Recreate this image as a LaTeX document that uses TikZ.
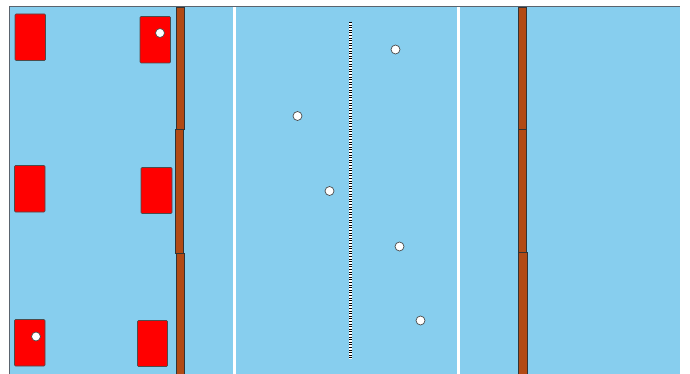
\documentclass[tikz,border=0pt]{standalone}
\definecolor{pool}{RGB}{135,206,238}
\definecolor{rope}{RGB}{178,74,20}
\definecolor{rimgray}{RGB}{90,100,110}
\tikzset{
  redblock/.style={fill=red,draw=black!70,line width=0.6pt,rounded corners=1pt},
  ropeseg/.style={fill=rope,draw=black!80,line width=0.5pt},
  ball/.style={circle,fill=white,draw=black!70,line width=0.7pt,minimum size=9pt,inner sep=0pt},
  lanemark/.style={white,line width=3pt},
}
\begin{document}
\begin{tikzpicture}[x=1pt,y=-1pt]
\useasboundingbox (0,0) rectangle (690,374);
\fill[white] (0,0) rectangle (690,374);
% pool
\fill[pool] (9,7) rectangle (680,374);
\draw[rimgray,line width=1pt] (9,374) -- (9,7) -- (680,7);
% white lines
\draw[lanemark] (234.5,7.5) -- (234.5,374);
\draw[lanemark] (458.5,7.5) -- (458.5,374);
% center dashed line
\draw[white,line width=3pt] (350,22) -- (350,359);
\draw[black,line width=3pt,dash pattern=on 0.9pt off 1.7pt] (350,22) -- (350,359);
% left rope
\draw[ropeseg] (176.5,7) rectangle (184,129.5);
\draw[ropeseg] (175.5,129.5) rectangle (183.5,253);
\draw[ropeseg] (176.5,253) rectangle (184,374.5);
% right rope
\draw[ropeseg] (518,7) rectangle (526,129.5);
\draw[ropeseg] (518,129.5) rectangle (526.5,252.5);
\draw[ropeseg] (518.5,252.5) rectangle (527,374.5);
% red blocks
\draw[redblock] (15,14) rectangle (45.5,60.5);
\draw[redblock] (140,16.5) rectangle (170.5,63);
\draw[redblock] (14.5,165.5) rectangle (45,212);
\draw[redblock] (141,167.5) rectangle (172,213.5);
\draw[redblock] (14.5,319.5) rectangle (45,366);
\draw[redblock] (137.5,320.5) rectangle (167.5,366.5);
% balls
\node[ball] (b1) at (160,33) {};
\node[ball] (b2) at (36,336.5) {};
\node[ball] (b3) at (395.5,49.5) {};
\node[ball] (b4) at (297.5,116) {};
\node[ball] (b5) at (329.5,191) {};
\node[ball] (b6) at (399.5,246.5) {};
\node[ball] (b7) at (420.5,320.5) {};
\end{tikzpicture}
\end{document}
